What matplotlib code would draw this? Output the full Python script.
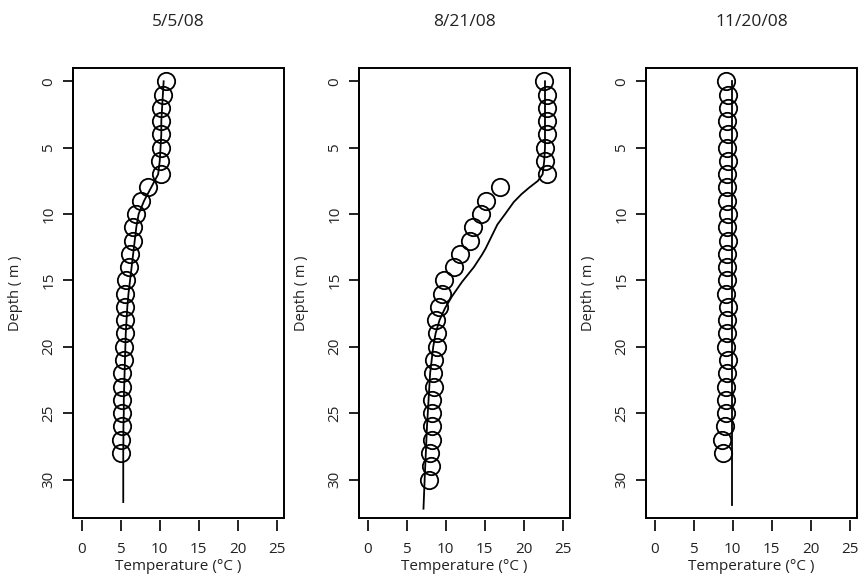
import matplotlib
matplotlib.use('Agg')
import matplotlib.pyplot as plt
from matplotlib.patches import Rectangle

plt.rcParams['font.family'] = ['Open Sans', 'DejaVu Sans']

titles = ['5/5/08', '8/21/08', '11/20/08']

# observed profiles (circles), one reading per metre
obs_depth1 = list(range(0, 29))
obs_temp1 = [10.8, 10.4, 10.2, 10.2, 10.2, 10.2, 10.0, 10.1, 8.5, 7.6,
             6.9, 6.6, 6.6, 6.2, 6.1, 5.7, 5.55, 5.55, 5.55, 5.5,
             5.4, 5.4, 5.2, 5.15, 5.2, 5.2, 5.2, 5.1, 5.1]

obs_depth2 = list(range(0, 31))
obs_temp2 = [22.6, 22.9, 23.0, 22.9, 22.9, 22.7, 22.7, 22.9, 17.0, 15.2,
             14.5, 13.5, 13.1, 11.8, 11.0, 9.8, 9.5, 9.1, 8.7, 8.85,
             8.85, 8.5, 8.4, 8.5, 8.2, 8.3, 8.3, 8.2, 8.0, 8.1, 7.9]

obs_depth3 = list(range(0, 29))
obs_temp3 = [9.2, 9.4, 9.4, 9.3, 9.4, 9.3, 9.4, 9.3, 9.3, 9.3,
             9.4, 9.3, 9.4, 9.3, 9.3, 9.3, 9.2, 9.4, 9.3, 9.3,
             9.2, 9.4, 9.3, 9.2, 9.2, 9.2, 9.0, 8.6, 8.7]

# modelled profiles (lines)
mod_depth1 = [0, 1, 2, 3, 4, 5, 6, 7, 8, 9, 10, 11, 12, 13, 14, 15, 16,
              17, 18, 19, 20, 21, 22, 23, 24, 25, 26, 27, 28, 29, 30, 31.7]
mod_temp1 = [10.5, 10.4, 10.3, 10.2, 10.2, 10.1, 10.0, 9.8, 8.9, 8.0,
             7.3, 7.0, 6.8, 6.6, 6.4, 6.2, 6.0, 5.85, 5.75, 5.65,
             5.6, 5.55, 5.5, 5.45, 5.4, 5.4, 5.35, 5.35, 5.33, 5.33, 5.33, 5.33]

mod_depth2 = [0, 1, 2, 3, 4, 5, 6, 7, 7.5, 8, 8.5, 9.1, 10, 10.8, 12, 12.6, 13.1,
              14, 15.1, 16.2, 17.1, 18, 19, 20, 21, 22, 24, 26, 28, 30, 32.2]
mod_temp2 = [22.7, 22.7, 22.7, 22.7, 22.7, 22.7, 22.6, 22.4, 21.8, 20.7, 19.7, 18.7,
             17.6, 16.6, 15.6, 15.1, 14.6, 13.6, 12.1, 10.8, 9.9, 9.2, 8.7,
             8.4, 8.2, 8.0, 7.8, 7.6, 7.45, 7.3, 7.15]

mod_depth3 = [0, 10, 20, 31.9]
mod_temp3 = [9.85, 9.85, 9.85, 9.85]

obs = [(obs_temp1, obs_depth1), (obs_temp2, obs_depth2), (obs_temp3, obs_depth3)]
mod = [(mod_temp1, mod_depth1), (mod_temp2, mod_depth2), (mod_temp3, mod_depth3)]

fig = plt.figure(figsize=(8.58, 5.82), dpi=100)
lefts = [73, 359, 646]

for i in range(3):
    ax = fig.add_axes([lefts[i] / 858, 1 - 518 / 582, 211 / 858, 450 / 582])
    ax.plot(mod[i][0], mod[i][1], color='black', lw=1.3)
    ax.plot(obs[i][0], obs[i][1], 'o', mfc='none', mec='black', ms=12.5, mew=1.3)
    ax.set_xlim(-1.1, 25.9)
    ax.set_ylim(32.9, -1.0)
    ax.set_xticks([0, 5, 10, 15, 20, 25])
    ax.set_yticks([0, 5, 10, 15, 20, 25, 30])
    for s in ['top', 'right']:
        ax.spines[s].set_visible(False)
    ax.spines['left'].set_linewidth(1.4)
    # x ticks hang slightly below the box, no axis line
    ax.spines['bottom'].set_position(('outward', 1.5))
    ax.spines['bottom'].set_linewidth(0)
    ax.add_patch(Rectangle((0, 0), 1, 1, transform=ax.transAxes, fill=False,
                           ec='black', lw=1.4, clip_on=False))
    ax.tick_params(axis='x', length=8, width=1.4, pad=8, labelsize=11, colors='#222222')
    ax.tick_params(axis='y', length=7, width=1.4, pad=5, labelsize=11, colors='#222222')
    for lab in ax.get_yticklabels():
        lab.set_rotation(90)
        lab.set_va('center')
    ax.set_title(titles[i], fontsize=12.5, pad=30, color='#222222')
    ax.set_xlabel('Temperature (°C )', fontsize=11, color='#222222')
    ax.xaxis.set_label_coords(0.5, -0.09)
    ax.set_ylabel('Depth ( m )', fontsize=10.5, color='#222222')
    ax.yaxis.set_label_coords(-0.235, 0.5)

plt.savefig('out.png', dpi=100)
